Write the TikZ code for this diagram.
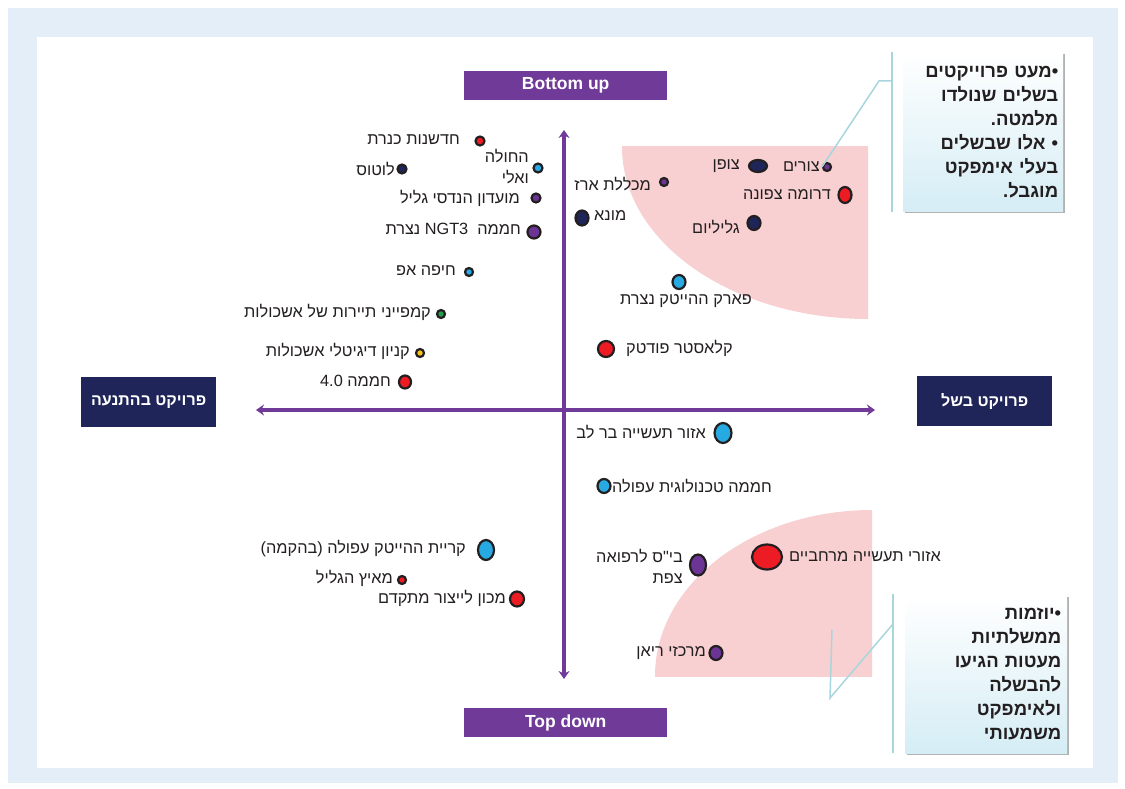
\documentclass[tikz,border=0pt]{standalone}
\usepackage{fontspec}
\setmainfont{Liberation Sans}
\newfontfamily\hebfont[Script=Hebrew]{Liberation Sans}
\TeXXeTstate=1
\usetikzlibrary{arrows.meta,shapes.geometric,shadows}
\definecolor{frameblue}{HTML}{E4EEF8}
\definecolor{axpurple}{HTML}{6F3A98}
\definecolor{boxnavy}{HTML}{1F2559}
\definecolor{zonepink}{HTML}{F8D0D1}
\definecolor{dotred}{HTML}{ED1C24}
\definecolor{dotcyan}{HTML}{27AAE1}
\definecolor{dotnavy}{HTML}{1E2558}
\definecolor{dotpurple}{HTML}{6C3494}
\definecolor{dotgreen}{HTML}{1FA049}
\definecolor{dotyellow}{HTML}{F8C41A}
\definecolor{rimdark}{HTML}{231F20}
\definecolor{noteline}{HTML}{A8D6DD}
\definecolor{notefill}{HTML}{D5EDF5}
\newcommand{\heb}[1]{\beginR#1\endR}

\begin{document}
\begin{tikzpicture}[x=1pt,y=-1pt,
  site/.style={ellipse,draw=rimdark,line width=2.2pt,inner sep=0pt},
  sz/.style 2 args={minimum width=#1,minimum height=#2},
  lbl/.style={font=\hebfont\fontsize{16.3}{21}\selectfont,text=rimdark,inner sep=0pt,align=right},
  quadaxis/.style={draw=axpurple,line width=4pt,{Stealth[length=8pt,width=11pt]}-{Stealth[length=8pt,width=11pt]}},
  tagbox/.style={rectangle,inner sep=0pt,text=white,anchor=north west,font=\bfseries\fontsize{17.5}{19}\selectfont},
  hebtag/.style={tagbox,fill=boxnavy,font=\hebfont\bfseries\fontsize{16}{18}\selectfont},
  note/.style={rectangle,anchor=north west,top color=white,bottom color=notefill,
    drop shadow={shadow xshift=1.5pt,shadow yshift=-1.5pt,opacity=0.3,fill=black},
    inner sep=5pt,text width=150pt,align=right,text=rimdark,
    font=\hebfont\bfseries\fontsize{18.5}{24}\selectfont},
  noteLink/.style={draw=noteline,line width=1.5pt}]
\useasboundingbox (0,0) rectangle (1125,789);
\fill[white] (0,0) rectangle (1125,789);
\fill[frameblue] (8,8) rectangle (1118,783);
\fill[white] (37,37) rectangle (1093,768);

\begin{scope}
\clip (622,147) rectangle (868,319);
\fill[zonepink] (868,147) ellipse [x radius=246pt,y radius=172pt];
\end{scope}
\begin{scope}
\clip (655,510) rectangle (872,676);
\fill[zonepink] (872,676) ellipse [x radius=217pt,y radius=166pt];
\end{scope}

\coordinate (axL) at (256,410);
\coordinate (axR) at (875,410);
\coordinate (axT) at (564,130);
\coordinate (axB) at (564,679);
\draw[quadaxis] (axL) -- (axR);
\draw[quadaxis] (axT) -- (axB);

\node[tagbox,fill=axpurple,minimum width=203,minimum height=29] (bottomUp) at (464,71) {Bottom up};
\node[tagbox,fill=axpurple,minimum width=203,minimum height=29] (topDown) at (464,708) {Top down};
\node[hebtag,minimum width=135,minimum height=50] (startTag) at (81,377) {\heb{פרויקט בהתנעה}};
\node[hebtag,minimum width=135,minimum height=50] (matureTag) at (917,376) {\heb{פרויקט בשל}};

\node[site,fill=dotred,sz={9}{9}] (kinneret) at (480,141) {};
\node[lbl,anchor=east] (kinneretL) at (460,140) {\heb{חדשנות כנרת}};
\node[site,fill=dotcyan,sz={9}{9}] (hula) at (538,168) {};
\node[lbl,anchor=east] (hulaL) at (529,167) {\heb{החולה}\\\heb{ואלי}};
\node[site,fill=dotnavy,sz={9}{9}] (lotus) at (402,169) {};
\node[lbl,anchor=east] (lotusL) at (395,169) {\heb{לוטוס}};
\node[site,fill=dotpurple,sz={9}{9}] (galilEng) at (536,198) {};
\node[lbl,anchor=east] (galilEngL) at (520,198) {\heb{מועדון הנדסי גליל}};
\node[site,fill=dotpurple,sz={13}{13}] (ngt) at (534,232) {};
\node[lbl,anchor=east] (ngtL) at (521,229) {\heb{חממה\ \ \beginL NGT3\endL\ נצרת}};
\node[site,fill=dotcyan,sz={8}{8}] (haifaUp) at (469,272) {};
\node[lbl,anchor=east] (haifaUpL) at (456,271) {\heb{חיפה אפ}};
\node[site,fill=dotgreen,sz={8}{8}] (eshkolTour) at (441,314) {};
\node[lbl,anchor=east] (eshkolTourL) at (431,312) {\heb{קמפייני תיירות של אשכולות}};
\node[site,fill=dotyellow,sz={8}{8}] (eshkolMall) at (420,353) {};
\node[lbl,anchor=east] (eshkolMallL) at (410,351) {\heb{קניון דיגיטלי אשכולות}};
\node[site,fill=dotred,sz={12}{13}] (hub) at (405,382) {};
\node[lbl,anchor=east] (hubL) at (391,381) {\heb{חממה \beginL 4.0\endL}};

\node[site,fill=dotpurple,sz={8}{8}] (erez) at (664,182) {};
\node[lbl,anchor=east] (erezL) at (651,184) {\heb{מכללת ארז}};
\node[site,fill=dotnavy,sz={13}{15}] (muna) at (582,218) {};
\node[lbl,anchor=west] (munaL) at (594,216) {\heb{מונא}};
\node[site,fill=dotnavy,sz={18}{12}] (tzofen) at (758,166) {};
\node[lbl,anchor=east] (tzofenL) at (740,166) {\heb{צופן}};
\node[site,fill=dotpurple,sz={8}{8}] (tzurim) at (827,167) {};
\node[lbl,anchor=east] (tzurimL) at (820,167) {\heb{צורים}};
\node[site,fill=dotred,sz={13}{16}] (droma) at (845,195) {};
\node[lbl,anchor=east] (dromaL) at (831,195) {\heb{דרומה צפונה}};
\node[site,fill=dotnavy,sz={13}{14}] (galilium) at (754,223) {};
\node[lbl,anchor=east] (galiliumL) at (740,227) {\heb{גליליום}};
\node[site,fill=dotcyan,sz={13}{14}] (nazPark) at (679,282) {};
\node[lbl] (nazParkL) at (686,301) {\heb{פארק ההייטק נצרת}};
\node[site,fill=dotred,sz={16}{16}] (foodtech) at (606,349) {};
\node[lbl,anchor=west] (foodtechL) at (626,348) {\heb{קלאסטר פודטק}};

\node[site,fill=dotcyan,sz={17}{20}] (barLev) at (723,433) {};
\node[lbl,anchor=east] (barLevL) at (706,432) {\heb{אזור תעשייה בר לב}};
\node[site,fill=dotcyan,sz={13}{14}] (afulaHub) at (604,486) {};
\node[lbl,anchor=west] (afulaHubL) at (612,486) {\heb{חממה טכנולוגית עפולה}};
\node[site,fill=dotpurple,sz={16}{21}] (safedMed) at (698,565) {};
\node[lbl,anchor=east] (safedMedL) at (683,566) {\heb{בי"ס לרפואה}\\\heb{צפת}};
\node[site,fill=dotred,sz={30}{25}] (regional) at (767,557) {};
\node[lbl,anchor=west] (regionalL) at (789,557) {\heb{אזורי תעשייה מרחביים}};
\node[site,fill=dotpurple,sz={13}{14}] (rayan) at (716,653) {};
\node[lbl,anchor=east] (rayanL) at (706,653) {\heb{מרכזי ריאן}};

\node[site,fill=dotcyan,sz={16}{20}] (afulaCity) at (486,550) {};
\node[lbl,anchor=east] (afulaCityL) at (466,549) {\heb{קריית ההייטק עפולה (בהקמה)}};
\node[site,fill=dotred,sz={8}{8}] (galilAcc) at (402,580) {};
\node[lbl,anchor=east] (galilAccL) at (393,578) {\heb{מאיץ הגליל}};
\node[site,fill=dotred,sz={14}{15}] (advMfg) at (517,599) {};
\node[lbl,anchor=east] (advMfgL) at (506,598) {\heb{מכון לייצור מתקדם}};

\node[note,minimum width=160,minimum height=159] (noteTop) at (903,52)
  {\heb{•מעט פרוייקטים}\\\heb{בשלים שנולדו}\\\heb{מלמטה.}\\\heb{• אלו שבשלים}\\\heb{בעלי אימפקט}\\\heb{מוגבל.}};
\node[note,minimum width=162,minimum height=158] (noteBot) at (905,595)
  {\heb{•יוזמות}\\\heb{ממשלתיות}\\\heb{מעטות הגיעו}\\\heb{להבשלה}\\\heb{ולאימפקט}\\\heb{משמעותי}};

\coordinate (topRailA) at (892,52);
\coordinate (topRailB) at (892,212);
\coordinate (topKnee) at (892,81);
\coordinate (topElbow) at (879,81);
\draw[noteLink] (topRailA) -- (topRailB);
\draw[noteLink] (topKnee) -- (topElbow) -- (tzurim.west);
\coordinate (botRailA) at (893,594);
\coordinate (botRailB) at (893,753);
\coordinate (botKnee) at (893,624);
\coordinate (botFoot) at (830,698);
\coordinate (botTip) at (832,630);
\draw[noteLink] (botRailA) -- (botRailB);
\draw[noteLink] (botKnee) -- (botFoot) -- (botTip);
\end{tikzpicture}
\end{document}
